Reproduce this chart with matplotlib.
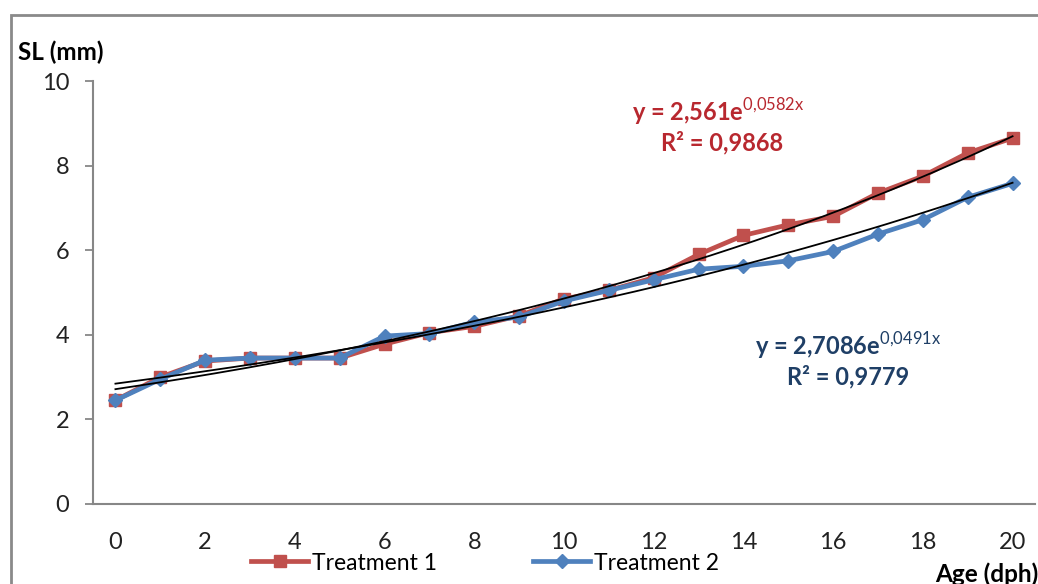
import numpy as np
import matplotlib
matplotlib.use("Agg")
import matplotlib.pyplot as plt
from matplotlib.patches import Rectangle

plt.rcParams['font.family'] = ['Lato', 'DejaVu Sans']
plt.rcParams['mathtext.fontset'] = 'custom'
plt.rcParams['mathtext.rm'] = 'Lato'
plt.rcParams['mathtext.bf'] = 'Lato:bold'

age = list(range(0, 21))
treatment1 = [2.45, 3.0, 3.38, 3.45, 3.45, 3.45, 3.78, 4.05, 4.2, 4.45, 4.85,
              5.05, 5.35, 5.9, 6.35, 6.6, 6.8, 7.35, 7.75, 8.3, 8.65]
treatment2 = [2.45, 2.95, 3.4, 3.45, 3.45, 3.45, 3.97, 4.03, 4.3, 4.42, 4.8,
              5.05, 5.3, 5.55, 5.62, 5.75, 5.97, 6.38, 6.72, 7.25, 7.58]
fit1 = (2.561, 0.0582)
fit2 = (2.7086, 0.0491)
yticks = [0, 2, 4, 6, 8, 10]
xticks = list(range(0, 21, 2))

W, H = 1038, 584
fig = plt.figure(figsize=(W/100, H/100), dpi=100)
ax = fig.add_axes([93/W, 1-504/H, (1035-93)/W, (504-81)/H])

red = '#C0504D'
blue = '#4F81BD'

ax.plot(age, treatment1, color=red, lw=3.4, marker='s', ms=8.5, mfc=red, mec=red,
        label='Treatment 1', zorder=3)
ax.plot(age, treatment2, color=blue, lw=3.4, marker='D', ms=7, mfc=blue, mec=blue,
        label='Treatment 2', zorder=4)

xs = np.linspace(0, 20, 200)
for a, b in (fit1, fit2):
    # Excel category axis: points indexed 1..21
    ax.plot(xs, a*np.exp(b*(xs+1)), color='black', lw=1.3, zorder=5)

ax.set_xlim(-0.5, 20.5)
ax.set_ylim(0, 10)
ax.set_yticks(yticks)
ax.set_xticks(xticks)
for s in ('top', 'right'):
    ax.spines[s].set_visible(False)
for s in ('left', 'bottom'):
    ax.spines[s].set_color('#878787')
    ax.spines[s].set_linewidth(1.5)
ax.tick_params(axis='y', length=6, width=1.3, color='#878787', labelsize=17, pad=11, labelcolor='#222222')
ax.tick_params(axis='x', length=0, labelsize=17, pad=20, labelcolor='#222222')

fig.text(18/W, 1-52/H, 'SL (mm)', fontsize=17.5, fontweight='bold', va='center', ha='left')
fig.text(935/W, 1-574/H, 'Age (dph)', fontsize=17.5, fontweight='bold', va='center', ha='left')

eq_size = 17
ax.text(0.664, 1-(112-81)/423, r'y = 2,561e$^{\mathrm{0{,}0582x}}$', transform=ax.transAxes,
        color='#B8282F', fontsize=eq_size, fontweight='bold', ha='center', va='center')
ax.text(0.668, 1-(143-81)/423, 'R² = 0,9868', transform=ax.transAxes,
        color='#B8282F', fontsize=eq_size, fontweight='bold', ha='center', va='center')
ax.text(0.802, 1-(346-81)/423, r'y = 2,7086e$^{\mathrm{0{,}0491x}}$', transform=ax.transAxes,
        color='#1F3F66', fontsize=eq_size, fontweight='bold', ha='center', va='center')
ax.text(0.802, 1-(377-81)/423, 'R² = 0,9779', transform=ax.transAxes,
        color='#1F3F66', fontsize=eq_size, fontweight='bold', ha='center', va='center')

leg = fig.legend(loc='center', bbox_to_anchor=(485/W, 1-563/H), ncol=2, frameon=False,
                 fontsize=16.5, handlelength=2.5, columnspacing=4.2, handletextpad=0.15)

fig.patches.append(Rectangle((11/W, -0.5), 2, 0.5+(1-15/H), transform=fig.transFigure,
                             fill=False, edgecolor='#8a8a8a', lw=2))

fig.savefig('out.png', dpi=100)
